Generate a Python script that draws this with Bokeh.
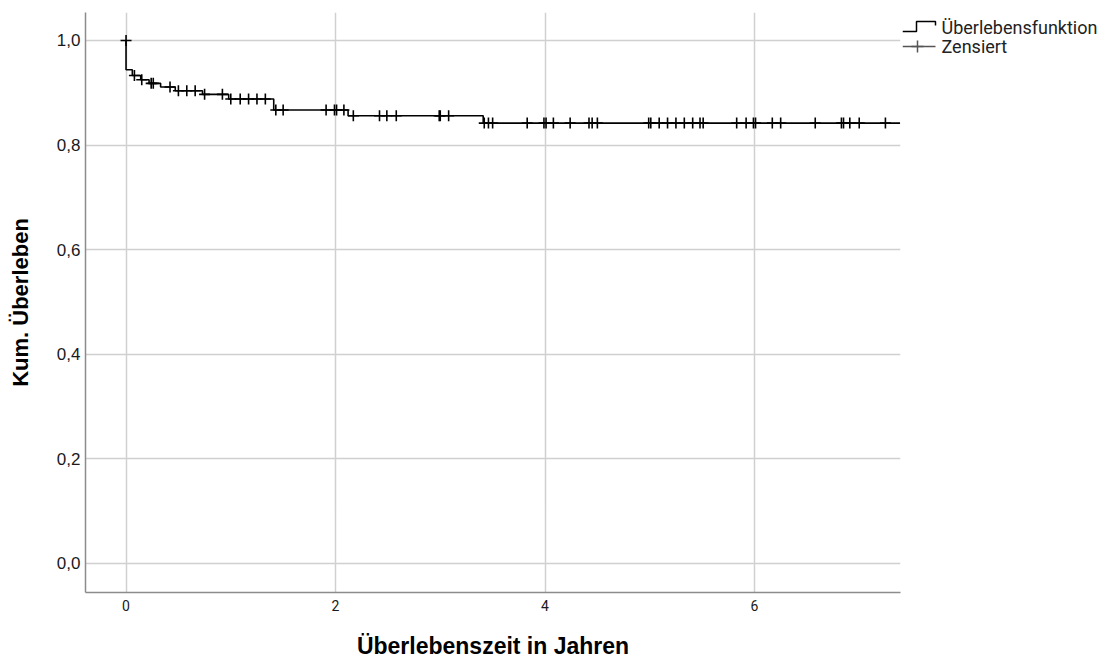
import numpy as np
from bokeh.plotting import figure
from bokeh.layouts import row, column
from bokeh.models import Range1d, FixedTicker, CustomJSTickFormatter
from bokeh.core.properties import value
from bokeh.embed import file_html
from bokeh.resources import INLINE

# Kaplan-Meier estimate: event times (years) and survival after each step
event_times = [0.0, 0.06, 0.14, 0.22, 0.33, 0.47, 0.73, 0.98, 1.41, 2.12, 3.41]
survival = [0.944, 0.933, 0.925, 0.918, 0.911, 0.904, 0.897, 0.888, 0.867, 0.856, 0.842]
followup_end = 7.39

# censored observations (years)
censored_times = [
    0.0, 0.08, 0.15, 0.24, 0.26, 0.42, 0.50, 0.58, 0.66, 0.75, 0.92,
    1.00, 1.09, 1.17, 1.25, 1.33, 1.43, 1.50, 1.91, 1.99, 2.01, 2.08,
    2.17, 2.42, 2.49, 2.58, 2.99, 3.00, 3.08, 3.42, 3.46, 3.50,
    3.83, 3.99, 4.01, 4.08, 4.24, 4.42, 4.45, 4.50, 4.99, 5.01, 5.09,
    5.17, 5.25, 5.33, 5.41, 5.48, 5.51, 5.83, 5.92, 5.99, 6.01, 6.17,
    6.25, 6.58, 6.83, 6.85, 6.91, 7.00, 7.25,
]

x_ticks = [0, 2, 4, 6]
y_ticks = [0.0, 0.2, 0.4, 0.6, 0.8, 1.0]

x_title = "Überlebenszeit in Jahren"
y_title = "Kum. Überleben"
legend_labels = ["Überlebensfunktion", "Zensiert"]

# step curve coordinates
step_x = [0.0] + event_times + [followup_end]
step_y = [1.0] + survival + [survival[-1]]

# survival level at each censoring time
levels = np.array([1.0] + survival)
idx = np.searchsorted(np.array(event_times), np.array(censored_times), side="left")
cens_y = levels[idx]

x_range = Range1d(-0.387, 7.394)
p = figure(
    width=902, height=630,
    x_range=x_range, y_range=Range1d(-0.0555, 1.0535),
    output_backend="svg", toolbar_location=None, title=None,
    min_border_left=85, min_border_right=2, min_border_top=12, min_border_bottom=38,
)
p.outline_line_color = None

for ax in (p.xaxis[0], p.yaxis[0]):
    ax.axis_line_color = "#8c8c8c"
    ax.axis_line_width = 1.5
    ax.major_tick_line_color = None
    ax.minor_tick_line_color = None
    ax.major_tick_out = 0
    ax.major_tick_in = 0
    ax.minor_tick_out = 0
    ax.minor_tick_in = 0
    ax.major_label_text_color = "#1a1a1a"

p.xaxis.ticker = FixedTicker(ticks=x_ticks)
p.yaxis.ticker = FixedTicker(ticks=y_ticks)
p.yaxis.formatter = CustomJSTickFormatter(code="return tick.toFixed(1).replace('.', ',');")
p.xaxis.major_label_text_font = "Roboto"
p.xaxis.major_label_text_font_size = "14px"
p.yaxis.major_label_text_font = "Liberation Sans"
p.yaxis.major_label_text_font_size = "17px"
p.xaxis.major_label_standoff = 7
p.yaxis.major_label_standoff = 5

p.yaxis.axis_label = y_title
p.yaxis.axis_label_text_font = "Liberation Sans"
p.yaxis.axis_label_text_font_style = "bold"
p.yaxis.axis_label_text_font_size = "22px"
p.yaxis.axis_label_text_color = "black"
p.yaxis.axis_label_standoff = 21

p.xgrid.ticker = FixedTicker(ticks=x_ticks)
p.ygrid.ticker = FixedTicker(ticks=y_ticks)
for g in (p.xgrid[0], p.ygrid[0]):
    g.grid_line_color = "#d0d0d0"
    g.grid_line_width = 1.5

p.step(step_x, step_y, mode="after", line_color="black", line_width=1.6)
p.scatter(censored_times, cens_y, marker="cross", size=11,
          line_color="black", line_width=1.6)

# strip under the plot carrying the x-axis title, centred on the plot area
xt = figure(
    width=902, height=29,
    x_range=x_range, y_range=Range1d(659, 630),
    output_backend="svg", toolbar_location=None, title=None, min_border=0,
)
xt.axis.visible = False
xt.grid.visible = False
xt.outline_line_color = None
xt.text([(x_range.start + x_range.end) / 2], [645.5], text=[x_title],
        text_align="center", text_baseline="middle",
        text_font=value("Liberation Sans"), text_font_style="bold",
        text_font_size=value("23px"), text_color="black")

# legend panel (pixel coordinates)
lg = figure(
    width=202, height=659,
    x_range=Range1d(902, 1104), y_range=Range1d(659, 0),
    output_backend="svg", toolbar_location=None, title=None, min_border=0,
)
lg.axis.visible = False
lg.grid.visible = False
lg.outline_line_color = None

lg.line([902, 916, 916, 935, 935], [31, 31, 21, 21, 25], line_color="black", line_width=1.5)
lg.line([902, 935], [46, 46], line_color="#555555", line_width=1.5)
lg.scatter([917], [46], marker="cross", size=12, line_color="#555555", line_width=1.5)
lg.text([941, 941], [27, 46], text=legend_labels, text_baseline="middle",
        text_font=value("Roboto"), text_font_size=value("18px"), text_color="#222222")

layout = row(column(p, xt, spacing=0), lg, spacing=0)
open("out.html", "w").write(file_html(layout, INLINE))
